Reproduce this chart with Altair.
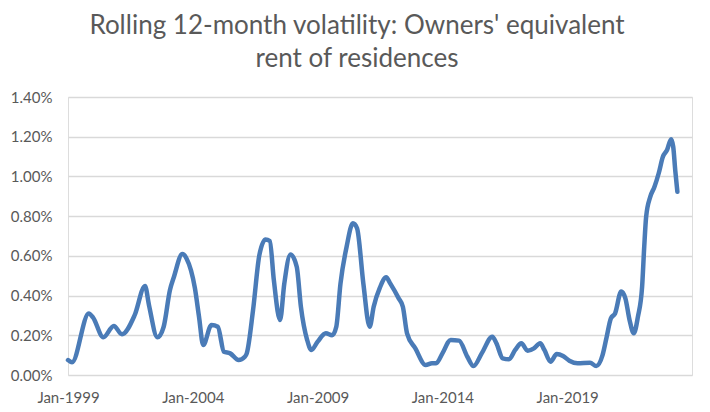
import altair as alt
import pandas as pd

# Month of each reading (first of month)
months = [
    "1999-01", "1999-03", "1999-11",
    "2000-01", "2000-06", "2000-11",
    "2001-03", "2001-09",
    "2002-02", "2002-04", "2002-08", "2002-11",
    "2003-02", "2003-04", "2003-08", "2003-10",
    "2004-02", "2004-04", "2004-06", "2004-10",
    "2005-01", "2005-04", "2005-07", "2005-11",
    "2006-02", "2006-03", "2006-06", "2006-09", "2006-12",
    "2007-02", "2007-04", "2007-07", "2007-09", "2007-12",
    "2008-03", "2008-05", "2008-08", "2008-10",
    "2009-01", "2009-05", "2009-08", "2009-10", "2009-12",
    "2010-03", "2010-06", "2010-08", "2010-11",
    "2011-02", "2011-04", "2011-07", "2011-10", "2011-12",
    "2012-04", "2012-06", "2012-08", "2012-12",
    "2013-05", "2013-08", "2013-10",
    "2014-01", "2014-05", "2014-09",
    "2015-01", "2015-04", "2015-08",
    "2016-01", "2016-03", "2016-06", "2016-09", "2016-12",
    "2017-03", "2017-06", "2017-09", "2017-12",
    "2018-02", "2018-05", "2018-08", "2018-11",
    "2019-02", "2019-06", "2019-12",
    "2020-03", "2020-06", "2020-08", "2020-10", "2020-12",
    "2021-03", "2021-05", "2021-07", "2021-09", "2021-11",
    "2022-01", "2022-02", "2022-03", "2022-05", "2022-07", "2022-09", "2022-11",
    "2023-01", "2023-03", "2023-04", "2023-05", "2023-06",
]

# Rolling 12-month volatility, in percent
volatility_pct = [
    0.075, 0.064, 0.31,
    0.29, 0.19, 0.247,
    0.205, 0.30,
    0.448, 0.35, 0.19, 0.243,
    0.428, 0.495, 0.609, 0.587,
    0.437, 0.294, 0.151, 0.252,
    0.243, 0.117, 0.109, 0.075,
    0.092, 0.109, 0.327, 0.604, 0.683,
    0.675, 0.478, 0.277, 0.46, 0.607,
    0.545, 0.344, 0.176, 0.126,
    0.168, 0.21, 0.2, 0.243, 0.46,
    0.646, 0.764, 0.739, 0.46,
    0.243, 0.344, 0.44, 0.492, 0.46,
    0.386, 0.344, 0.21, 0.134,
    0.05, 0.059, 0.059,
    0.109, 0.176, 0.173,
    0.092, 0.045, 0.11,
    0.193, 0.16, 0.084, 0.079, 0.126,
    0.16, 0.122, 0.134, 0.16,
    0.126, 0.067, 0.106, 0.096,
    0.072, 0.059, 0.062,
    0.045, 0.1, 0.193, 0.285, 0.31,
    0.42, 0.386, 0.277, 0.21, 0.294,
    0.445, 0.646, 0.797, 0.898, 0.948, 1.016, 1.099,
    1.133, 1.187, 1.15, 1.03, 0.923,
]

label_years = [1999, 2004, 2009, 2014, 2019]
y_ticks_pct = [0.0, 0.2, 0.4, 0.6, 0.8, 1.0, 1.2, 1.4]

title_lines = ["Rolling 12-month volatility: Owners' equivalent", "rent of residences"]

df = pd.DataFrame({
    "date": [m + "-01" for m in months],
    "vol": [v / 100 for v in volatility_pct],
})

GRAY = "#595959"
FONT = "Lato"

x_enc = alt.X(
    "date:T",
    scale=alt.Scale(
        type="utc",
        domain=[alt.DateTime(year=1999, month=1, date=1, utc=True),
                alt.DateTime(year=2024, month=1, date=1, utc=True)],
    ),
    axis=alt.Axis(
        title=None,
        values=[alt.DateTime(year=y, month=1, date=1, utc=True) for y in label_years],
        labelExpr="utcFormat(datum.value, '%b-%Y')",
        grid=False,
        domain=False,
        ticks=False,
        labelPadding=15,
        labelFontSize=15,
        labelFont=FONT,
        labelColor=GRAY,
        labelFlush=False,
    ),
)

y_enc = alt.Y(
    "vol:Q",
    scale=alt.Scale(domain=[0, 0.014], nice=False),
    axis=alt.Axis(
        title=None,
        values=[v / 100 for v in y_ticks_pct],
        format=".2%",
        grid=True,
        gridColor="#d9d9d9",
        gridWidth=1.5,
        domain=False,
        ticks=False,
        labelPadding=16,
        labelFontSize=15,
        labelFont=FONT,
        labelColor=GRAY,
    ),
)

chart = (
    alt.Chart(df)
    .mark_line(color="#4a7bb7", strokeWidth=4.5, interpolate="monotone", strokeCap="round", strokeJoin="round")
    .encode(x=x_enc, y=y_enc)
    .properties(
        width=624,
        height=278,
        autosize=alt.AutoSizeParams(type="none"),
        padding={"left": 60, "top": 89, "right": 10, "bottom": 30},
        title=alt.TitleParams(
            text=title_lines,
            font=FONT,
            fontSize=26,
            fontWeight="normal",
            color=GRAY,
            anchor="middle",
            dx=-23,
            offset=18,
            lineHeight=33,
        ),
    )
    .configure_view(stroke=None)
    .configure(background="white")
)

chart.save("out.html", embed_options={"renderer": "svg", "actions": False})
